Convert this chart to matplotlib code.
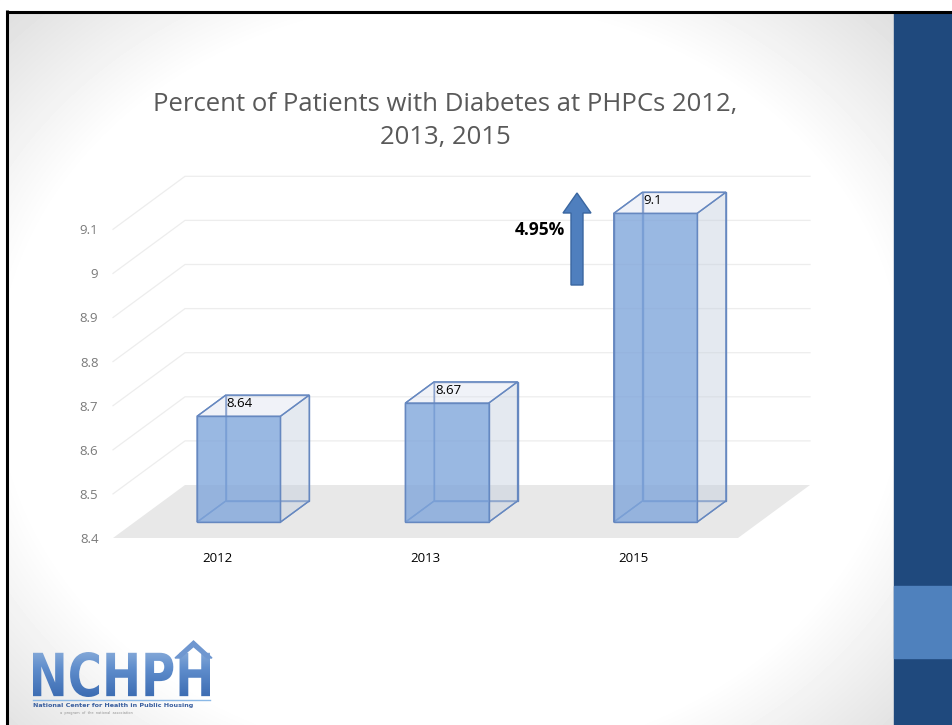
import numpy as np
import matplotlib
matplotlib.use("Agg")
import matplotlib.pyplot as plt
from matplotlib.patches import Polygon, Rectangle, FancyArrow, PathPatch
from matplotlib.textpath import TextPath
from matplotlib.font_manager import FontProperties
from matplotlib.colors import LinearSegmentedColormap
from matplotlib.transforms import Affine2D

# chart data
years = ["2012", "2013", "2015"]
percent_diabetes = [8.64, 8.67, 9.1]
y_ticks = [8.4, 8.5, 8.6, 8.7, 8.8, 8.9, 9.0, 9.1]
change_label = "4.95%"
title = "Percent of Patients with Diabetes at PHPCs 2012,\n2013, 2015"

W, H = 953, 725
# oblique depth step (one full floor depth) in data units
DEPTH_DX = 72 / 625 * 3
DEPTH_DY = 53 / 441


def proj(x, v, z):
    return (x + z * DEPTH_DX, v + z * DEPTH_DY)


def draw_slide(bg):
    # soft radial background like the slide theme
    yy, xx = np.mgrid[0:H, 0:W]
    d = np.sqrt(((xx - 450) / 560.0) ** 2 + ((yy - 380) / 470.0) ** 2)
    shade = 1 - 0.12 * np.clip((d - 0.8) / 0.3, 0, 1)
    bg.imshow(shade, cmap="gray", vmin=0, vmax=1, extent=(0, W, H, 0), aspect="auto", zorder=0)
    bg.add_patch(Rectangle((0, 0), W, 10, color="white", zorder=1))
    bg.add_patch(Rectangle((0, 0), 6, H, color="white", zorder=1))
    bg.add_patch(Rectangle((894, 12), W - 894, H - 12, color="#1f497d", zorder=2))
    bg.add_patch(Rectangle((894, 586), W - 894, 72, color="#4f81bd", zorder=2))
    bg.plot([6, W], [11.5, 11.5], color="black", lw=2.2, zorder=3, solid_capstyle="butt")
    bg.plot([7.5, 7.5], [10, H], color="black", lw=2.2, zorder=3, solid_capstyle="butt")


def draw_logo(bg):
    tp = TextPath((0, 0), "NCHPH", size=50, prop=FontProperties(family="DejaVu Sans", weight="bold"))
    ext = tp.get_extents()
    sx = (210 - 33) / ext.width
    sy = (697 - 652) / ext.height
    trf = Affine2D().translate(-ext.x0, -ext.y0).scale(sx, -sy).translate(33, 697)
    path = trf.transform_path(tp)
    patch = PathPatch(path, facecolor="none", edgecolor="none", transform=bg.transData)
    bg.add_patch(patch)
    cmap = LinearSegmentedColormap.from_list("logo", ["#9dbbe0", "#5f8dcc", "#3d6db3"])
    grad = np.linspace(0, 1, 64).reshape(-1, 1) * np.ones((1, 8))
    im = bg.imshow(grad, cmap=cmap, extent=(33, 212, 697, 640), aspect="auto", zorder=4)
    im.set_clip_path(patch)
    roof = [(175, 658), (193.5, 641), (212, 658), (207, 658), (193.5, 646.5), (180, 658)]
    bg.add_patch(Polygon(roof, closed=True, color="#6f97d0", zorder=4))
    bg.plot([33, 210], [700, 700], color="#8ab8e6", lw=1, zorder=4)
    bg.text(33, 706, "National Center for Health in Public Housing", fontsize=4.6, fontweight="bold",
            color="#3a5f9f", ha="left", va="center", zorder=4)
    bg.text(60, 713, "a  program  of  the  national  association", fontsize=2.5,
            color="#909090", ha="left", va="center", zorder=4)


def draw_chart(ax):
    x_lo, x_hi = -0.5, len(years) - 0.5
    v_lo, v_hi = y_ticks[0], y_ticks[-1]

    # floor
    floor = [proj(x_lo, v_lo, 0), proj(x_hi, v_lo, 0), proj(x_hi, v_lo, 1), proj(x_lo, v_lo, 1)]
    ax.add_patch(Polygon(floor, closed=True, facecolor="#e8e8e8", edgecolor="none", clip_on=False, zorder=1))

    # wall gridlines
    for v in y_ticks[1:]:
        pts = [proj(x_lo, v, 0), proj(x_lo, v, 1), proj(x_hi, v, 1)]
        xs, ys = zip(*pts)
        ax.plot(xs, ys, color="#ededed", lw=0.9, clip_on=False, zorder=1)

    # bars as open boxes
    hw = 0.2
    z0, z1 = 0.3, 0.7
    edge = "#6688c0"
    for i, val in enumerate(percent_diabetes):
        x0, x1 = i - hw, i + hw
        back = [proj(x0, v_lo, z1), proj(x1, v_lo, z1), proj(x1, val, z1), proj(x0, val, z1)]
        left = [proj(x0, v_lo, z0), proj(x0, v_lo, z1), proj(x0, val, z1), proj(x0, val, z0)]
        bottom = [proj(x0, v_lo, z0), proj(x1, v_lo, z0), proj(x1, v_lo, z1), proj(x0, v_lo, z1)]
        right = [proj(x1, v_lo, z0), proj(x1, v_lo, z1), proj(x1, val, z1), proj(x1, val, z0)]
        top = [proj(x0, val, z0), proj(x1, val, z0), proj(x1, val, z1), proj(x0, val, z1)]
        front = [proj(x0, v_lo, z0), proj(x1, v_lo, z0), proj(x1, val, z0), proj(x0, val, z0)]
        for face in (back, left, bottom):
            ax.add_patch(Polygon(face, closed=True, facecolor="none", edgecolor=edge, lw=1.0,
                                 clip_on=False, zorder=2))
        ax.add_patch(Polygon(right, closed=True, facecolor=(0.77, 0.81, 0.87, 0.45), edgecolor=edge,
                             lw=1.0, clip_on=False, zorder=3))
        ax.add_patch(Polygon(top, closed=True, facecolor=(0.84, 0.86, 0.92, 0.35), edgecolor=edge,
                             lw=1.0, clip_on=False, zorder=3))
        ax.add_patch(Polygon(front, closed=True, facecolor=(0.5, 0.65, 0.86, 0.8), edgecolor=edge,
                             lw=1.0, clip_on=False, zorder=4))
        ax.annotate(f"{val:g}", xy=proj(x0, val, z1), xytext=(0.5, -1.5), textcoords="offset points",
                    ha="left", va="top", fontsize=9.5, color="black", family="Open Sans",
                    annotation_clip=False, zorder=5)

    ax.set_xlim(x_lo, x_hi)
    ax.set_ylim(v_lo, v_hi)
    ax.set_xticks(range(len(years)))
    ax.set_xticklabels(years, family="Open Sans")
    ax.set_yticks(y_ticks)
    ax.set_yticklabels([f"{v:g}" for v in y_ticks], family="Open Sans")
    ax.tick_params(axis="y", length=0, pad=10.5, labelcolor="#7a7a7a", labelsize=9.5)
    ax.tick_params(axis="x", length=0, pad=10, labelcolor="black", labelsize=9.5)
    for s in ax.spines.values():
        s.set_visible(False)
    ax.patch.set_alpha(0)


def main():
    fig = plt.figure(figsize=(W / 100, H / 100), dpi=100)
    bg = fig.add_axes([0, 0, 1, 1])
    bg.set_axis_off()
    draw_slide(bg)
    draw_logo(bg)
    bg.set_xlim(0, W)
    bg.set_ylim(H, 0)

    ax = fig.add_axes([113 / W, (H - 538) / H, 625 / W, 0.7 * 441 / H])
    draw_chart(ax)

    # growth arrow and label
    arrow = FancyArrow(577, 285, 0, -92, width=12, head_width=28, head_length=20,
                       length_includes_head=True, facecolor="#4f7fbe", edgecolor="#3a66a0",
                       lw=1.0, transform=bg.transData, clip_on=False, zorder=6)
    ax.add_artist(arrow)
    fig.text(565 / W, 1 - 230 / H, change_label, ha="right", va="center", fontsize=12.5,
             fontweight="bold", family="Open Sans", color="black")

    fig.text(445 / W, 1 - 121 / H, title, ha="center", va="center", fontsize=18.5,
             family="Open Sans", color="#595959", linespacing=1.42)

    fig.savefig("out.png", dpi=100)


if __name__ == "__main__":
    main()
